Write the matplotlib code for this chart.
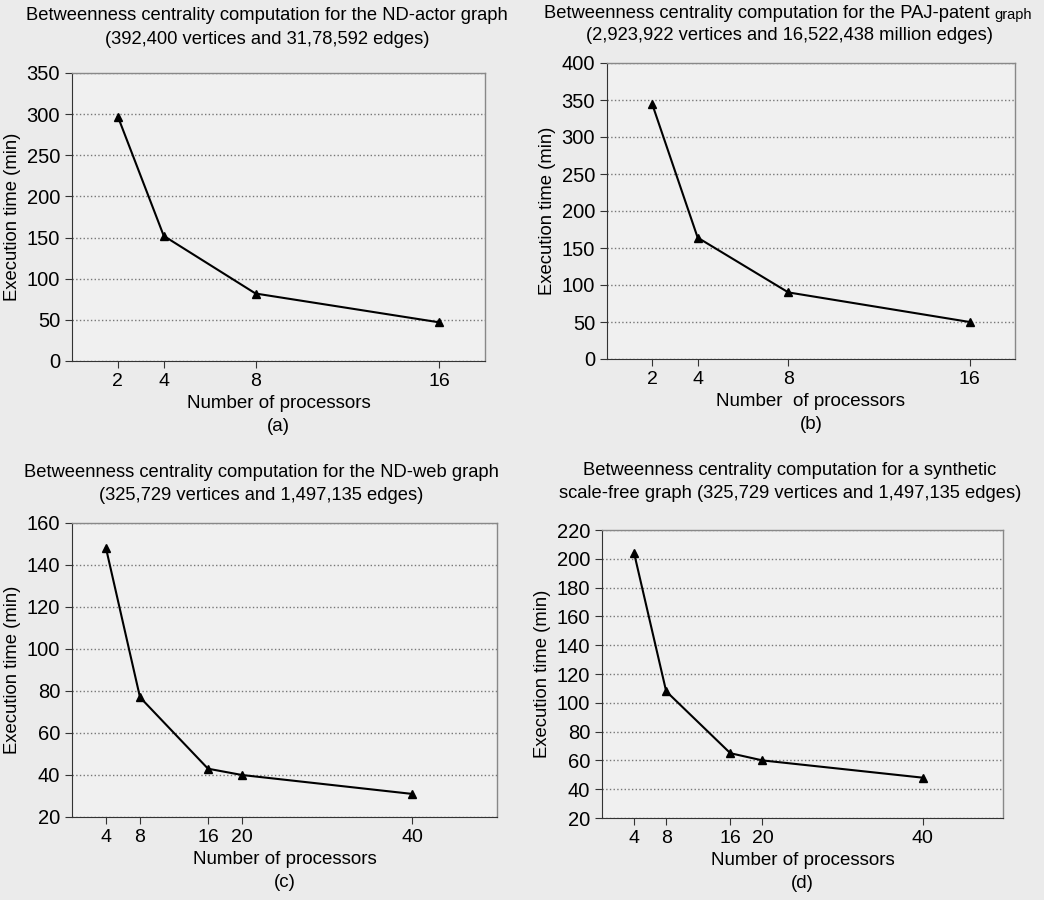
import matplotlib
matplotlib.use('Agg')
import matplotlib.pyplot as plt

plt.rcParams['font.family'] = ['Liberation Sans', 'DejaVu Sans']

# panel (a) ND-actor
procs_a = [2, 4, 8, 16]
time_a = [297, 152, 82, 47]
# panel (b) PAJ-patent
procs_b = [2, 4, 8, 16]
time_b = [344, 164, 90, 50]
# panel (c) ND-web
procs_c = [4, 8, 16, 20, 40]
time_c = [148, 77, 43, 40, 31]
# panel (d) synthetic scale-free
procs_d = [4, 8, 16, 20, 40]
time_d = [204, 108, 65, 60, 48]

title_line1 = [
    'Betweenness centrality computation for the ND-actor graph',
    'Betweenness centrality computation for the PAJ-patent ',
    'Betweenness centrality computation for the ND-web graph',
    'Betweenness centrality computation for a synthetic',
]
title_line2 = [
    '(392,400 vertices and 31,78,592 edges)',
    '(2,923,922 vertices and 16,522,438 million edges)',
    '(325,729 vertices and 1,497,135 edges)',
    'scale-free graph (325,729 vertices and 1,497,135 edges)',
]
xlabels = ['Number of processors\n(a)', 'Number  of processors\n(b)',
           'Number of processors\n(c)', 'Number of processors\n(d)']
xlims = [(0, 18), (0, 18), (0, 50), (0, 50)]
ylims = [(0, 350), (0, 400), (20, 160), (20, 220)]
ysteps = [50, 50, 20, 20]

W, H = 1044, 900
fig = plt.figure(figsize=(W / 100, H / 100), dpi=100)
fig.patch.set_facecolor('#ebebeb')

# axes boxes in pixels: left, top, right, bottom
boxes = [(72, 73, 485, 361), (607, 63, 1015, 359),
         (72, 523, 497, 817), (602, 530, 1003, 818)]
# title centres in pixels: x, y of line 1, y of line 2
title_pos = [(267, 15, 40), (790, 13, 36), (261, 472, 495), (790, 470, 493)]

data = [(procs_a, time_a), (procs_b, time_b), (procs_c, time_c), (procs_d, time_d)]

for i, (x, y) in enumerate(data):
    l, t, r, b = boxes[i]
    ax = fig.add_axes([l / W, 1 - b / H, (r - l) / W, (b - t) / H])
    ax.set_facecolor('#f0f0f0')
    ax.plot(x, y, color='black', linewidth=1.5, marker='^', markersize=6)
    ax.set_xlim(*xlims[i])
    ax.set_ylim(*ylims[i])
    ax.set_xticks(x)
    lo, hi = ylims[i]
    ax.set_yticks(range(lo, hi + 1, ysteps[i]))
    ax.yaxis.grid(True, linestyle=':', color='#777777', linewidth=1)
    ax.set_axisbelow(True)
    for side in ['top', 'right']:
        ax.spines[side].set_color('#888888')
        ax.spines[side].set_linewidth(1)
    for side in ['left', 'bottom']:
        ax.spines[side].set_color('#333333')
    ax.tick_params(length=5, direction='out', color='#333333')
    ax.tick_params(axis='y', labelsize=14.5)
    ax.tick_params(axis='x', labelsize=14)
    ax.set_ylabel('Execution time (min)', fontsize=13.3)
    ax.set_xlabel(xlabels[i], fontsize=13.5, linespacing=1.4)

    tx, ty1, ty2 = title_pos[i]
    if i == 1:
        t1 = fig.text(tx / W - 0.02, 1 - ty1 / H, title_line1[i], fontsize=13.2,
                      ha='center', va='center')
        ax.annotate('graph', xy=(1, 0), xycoords=t1, fontsize=10.5,
                    ha='left', va='bottom')
    else:
        fig.text(tx / W, 1 - ty1 / H, title_line1[i], fontsize=13.2,
                 ha='center', va='center')
    fig.text(tx / W, 1 - ty2 / H, title_line2[i], fontsize=13.2,
             ha='center', va='center')

fig.savefig('out.png', dpi=100, facecolor=fig.get_facecolor())
